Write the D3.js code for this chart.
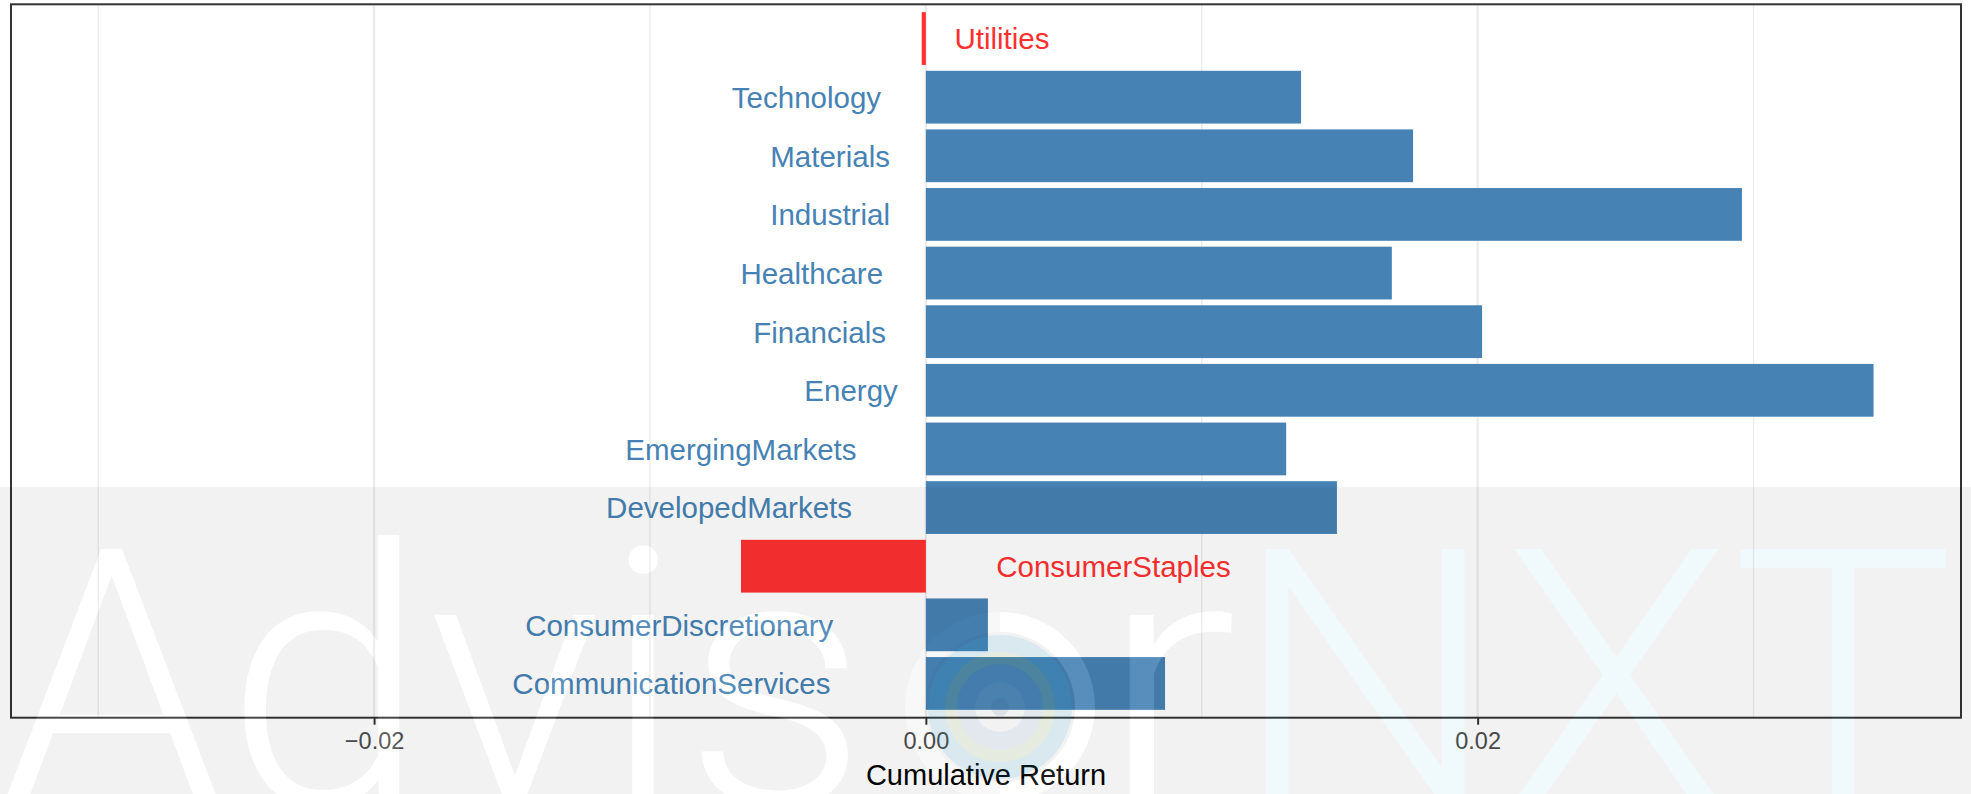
<!DOCTYPE html>
<html>
<head>
<meta charset="utf-8">
<script src="https://cdn.jsdelivr.net/npm/d3@7"></script>
<style>
  body { margin: 0; background: #fff; }
  svg { display: block; font-family: "Liberation Sans", Arial, sans-serif; }
</style>
</head>
<body>
<div id="chart"></div>
<script>
const WIDTH = 1971;
const HEIGHT = 794;

// data, top to bottom as drawn
const categories = [
  "Utilities", "Technology", "Materials", "Industrial", "Healthcare", "Financials",
  "Energy", "EmergingMarkets", "DevelopedMarkets", "ConsumerStaples",
  "ConsumerDiscretionary", "CommunicationServices"
];
const cumReturns = [
  -0.00015, 0.0136, 0.01766, 0.02958, 0.01689, 0.02016,
  0.03435, 0.01306, 0.0149, -0.0067, 0.00225, 0.00867
];
const xDomain = [-0.03316, 0.03752];
const majorBreaks = [-0.02, 0, 0.02];
const minorBreaks = [-0.03, -0.01, 0.01, 0.03];
const tickLabels = ["\u22120.02", "0.00", "0.02"];

const POS = "#4682B4";
const NEG = "#FF3030";

const panel = { left: 11, right: 1961, top: 4.3, bottom: 717.7 };

const svg = d3.select("#chart").append("svg")
  .attr("xmlns", "http://www.w3.org/2000/svg")
  .attr("width", WIDTH)
  .attr("height", HEIGHT);

svg.append("rect")
  .attr("width", WIDTH)
  .attr("height", HEIGHT)
  .attr("fill", "#fff");

const x = d3.scaleLinear()
  .domain(xDomain)
  .range([panel.left, panel.right]);

const y = d3.scaleBand()
  .domain(categories)
  .range([panel.top, panel.bottom])
  .paddingInner(0.1)
  .paddingOuter(0.134);

const rows = categories.map((c, i) => ({ name: c, value: cumReturns[i] }));

// grid
svg.append("g").selectAll("line")
  .data(minorBreaks)
  .join("line")
  .attr("x1", d => x(d)).attr("x2", d => x(d))
  .attr("y1", panel.top).attr("y2", panel.bottom)
  .attr("stroke", "#ebebeb")
  .attr("stroke-width", 1.3);

svg.append("g").selectAll("line")
  .data(majorBreaks)
  .join("line")
  .attr("x1", d => x(d)).attr("x2", d => x(d))
  .attr("y1", panel.top).attr("y2", panel.bottom)
  .attr("stroke", "#ebebeb")
  .attr("stroke-width", 2.2);

// bars
svg.append("g").selectAll("rect")
  .data(rows)
  .join("rect")
  .attr("x", d => x(Math.min(0, d.value)))
  .attr("y", d => y(d.name))
  .attr("width", d => Math.abs(x(d.value) - x(0)))
  .attr("height", y.bandwidth())
  .attr("fill", d => d.value < 0 ? NEG : POS);

// labels on the opposite side of zero (hjust 1.3 / -0.3)
const labels = svg.append("g").selectAll("text")
  .data(rows)
  .join("text")
  .attr("y", d => y(d.name) + y.bandwidth() / 2)
  .attr("dy", "0.37em")
  .style("font-size", "29.5px")
  .attr("fill", d => d.value < 0 ? NEG : POS)
  .text(d => d.name);

labels.each(function (d) {
  const w = this.getComputedTextLength();
  const t = d3.select(this);
  if (d.value < 0) {
    t.attr("text-anchor", "start").attr("x", x(0) + 0.3 * w);
  } else {
    t.attr("text-anchor", "end").attr("x", x(0) - 0.3 * w);
  }
});

// panel border
svg.append("rect")
  .attr("x", panel.left)
  .attr("y", panel.top)
  .attr("width", panel.right - panel.left)
  .attr("height", panel.bottom - panel.top)
  .attr("fill", "none")
  .attr("stroke", "#333333")
  .attr("stroke-width", 2);

// x axis
const axis = d3.axisBottom(x)
  .tickValues(majorBreaks)
  .tickSize(7)
  .tickFormat((d, i) => tickLabels[i]);

const ax = svg.append("g")
  .attr("transform", `translate(0, ${panel.bottom})`)
  .call(axis);
ax.select(".domain").remove();
ax.selectAll(".tick line").attr("stroke", "#333333").attr("stroke-width", 2);
ax.selectAll(".tick text")
  .attr("fill", "#4d4d4d")
  .attr("y", 31.6)
  .attr("dy", null)
  .style("font-size", "23.5px")
  .style("font-family", "Liberation Sans, Arial, sans-serif");

svg.append("text")
  .attr("x", (panel.left + panel.right) / 2)
  .attr("y", 785)
  .attr("text-anchor", "middle")
  .style("font-size", "29px")
  .attr("fill", "#000")
  .text("Cumulative Return");

// watermark "Advis(logo)r NXT"
const wmTop = 486.7;
const wmFont = "Roboto, 'Liberation Sans', sans-serif";
const wmPieces = [
  { t: "Advis", x: -2, len: 870 },
  { t: "r", x: 1098, len: 140 },
  { t: "NXT", x: 1232, len: 723, nxt: true }
];
const logoC = [1000, 707];
const ringArc = d3.arc().innerRadius(75).outerRadius(95);

function wmShapes(g, fillFor) {
  g.selectAll("text.wm")
    .data(wmPieces)
    .join("text")
    .attr("class", "wm")
    .attr("x", d => d.x).attr("y", 805)
    .attr("textLength", d => d.len)
    .attr("lengthAdjust", "spacingAndGlyphs")
    .style("font-family", wmFont).style("font-weight", 300)
    .style("font-size", "360px")
    .attr("fill", fillFor)
    .text(d => d.t);
}

const mask = svg.append("defs").append("mask").attr("id", "wm-cut");
mask.append("rect").attr("width", WIDTH).attr("height", HEIGHT).attr("fill", "#fff");
wmShapes(mask, "#000");
const maskRing = mask.append("g").attr("transform", `translate(${logoC})`);
maskRing.append("path").attr("d", ringArc({ startAngle: 0, endAngle: Math.PI })).attr("fill", "#000");
maskRing.append("path").attr("d", ringArc({ startAngle: Math.PI, endAngle: 2 * Math.PI })).attr("fill", "#888");

svg.append("rect")
  .attr("x", 0).attr("y", wmTop)
  .attr("width", WIDTH).attr("height", HEIGHT - wmTop)
  .attr("fill", "#000")
  .attr("fill-opacity", 0.05)
  .attr("mask", "url(#wm-cut)");

const wm = svg.append("g");
wmShapes(wm, d => d.nxt ? "rgb(0,150,200)" : "#fff");
wm.selectAll("text.wm").attr("fill-opacity", d => d.nxt ? 0.06 : 0.1);

// logo rings
const logo = svg.append("g").attr("transform", `translate(${logoC})`);
logo.append("path").attr("d", ringArc({ startAngle: 0, endAngle: Math.PI }))
  .attr("fill", "#fff").attr("fill-opacity", 0.1);
logo.append("path").attr("d", d3.arc().innerRadius(55).outerRadius(72)({ startAngle: 0, endAngle: 2 * Math.PI }))
  .attr("fill", "rgb(40,170,220)").attr("fill-opacity", 0.12);
logo.append("path").attr("d", d3.arc().innerRadius(43).outerRadius(55)({ startAngle: 0, endAngle: 2 * Math.PI }))
  .attr("fill", "rgb(150,190,90)").attr("fill-opacity", 0.13);
logo.append("path").attr("d", d3.arc().innerRadius(25).outerRadius(43)({ startAngle: 0, endAngle: 2 * Math.PI }))
  .attr("fill", "rgb(90,150,210)").attr("fill-opacity", 0.1);
logo.append("circle").attr("r", 25).attr("fill", "#fff").attr("fill-opacity", 0.05);
logo.append("circle").attr("r", 9).attr("fill", "rgb(40,80,130)").attr("fill-opacity", 0.1);
</script>
</body>
</html>
